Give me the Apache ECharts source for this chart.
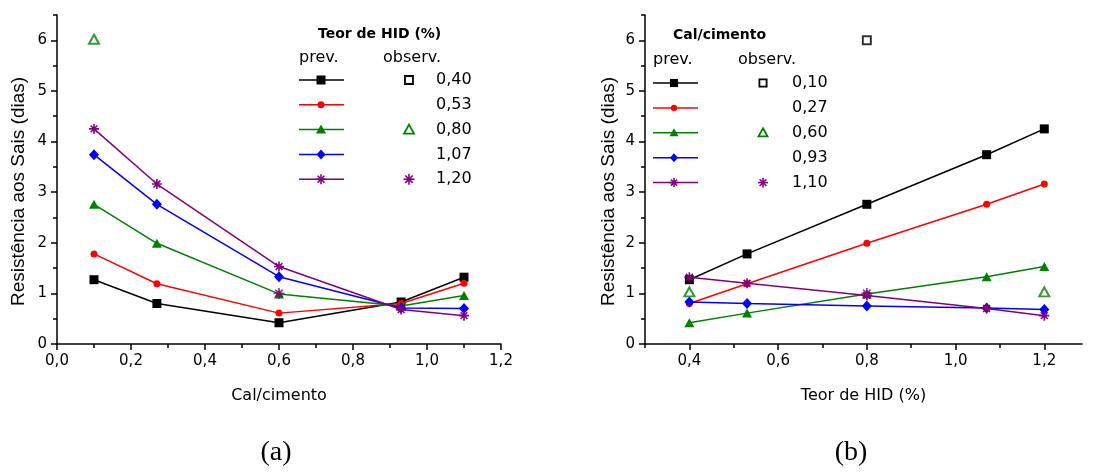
<!DOCTYPE html>
<html><head><meta charset="utf-8">
<script src="https://cdn.jsdelivr.net/npm/echarts@6/dist/echarts.min.js"></script>
<style>html,body{margin:0;padding:0;background:#fff}#c{width:1105px;height:472px}</style>
</head><body><div id="c"></div>
<script>
// ---------- data ----------
const hidLevels = [0.40, 0.53, 0.80, 1.07, 1.20];
const calLevels = [0.10, 0.27, 0.60, 0.93, 1.10];
const hidLabels = ['0,40', '0,53', '0,80', '1,07', '1,20'];
const calLabels = ['0,10', '0,27', '0,60', '0,93', '1,10'];
// predicted resistance (dias); one array per HID level, values follow calLevels
const prevHID040 = [1.27, 0.80, 0.42, 0.83, 1.32];
const prevHID053 = [1.78, 1.19, 0.61, 0.80, 1.20];
const prevHID080 = [2.76, 1.99, 0.99, 0.75, 0.96];
const prevHID107 = [3.74, 2.76, 1.33, 0.71, 0.70];
const prevHID120 = [4.25, 3.16, 1.53, 0.68, 0.56];
// observed points, chart (a): [cal/cimento, dias]
const obsA040 = [];
const obsA053 = [];
const obsA080 = [[0.10, 6.02]];
const obsA107 = [];
const obsA120 = [[0.60, 1.00]];
// observed points, chart (b): [teor de HID, dias]
const obsB010 = [[0.80, 6.00]];
const obsB027 = [];
const obsB060 = [[0.40, 1.03], [1.20, 1.03]];
const obsB093 = [];
const obsB110 = [[0.80, 1.00]];
// ticks
const yTicks = [0, 1, 2, 3, 4, 5, 6];
const yMinorTicks = [0.5, 1.5, 2.5, 3.5, 4.5, 5.5, 6.5];
const xTicksA = [0, 0.2, 0.4, 0.6, 0.8, 1.0, 1.2];
const xMinorTicksA = [0.1, 0.3, 0.5, 0.7, 0.9, 1.1];
const xTicksB = [0.4, 0.6, 0.8, 1.0, 1.2];
const xMinorTicksB = [0.3, 0.5, 0.7, 0.9, 1.1];

// ---------- styles ----------
const prevRows = [prevHID040, prevHID053, prevHID080, prevHID107, prevHID120];
const obsA = [obsA040, obsA053, obsA080, obsA107, obsA120];
const obsB = [obsB010, obsB027, obsB060, obsB093, obsB110];
const legendHasObs = [true, false, true, false, true];
const COLORS = ['#000000', '#ff0000', '#008000', '#0000ff', '#800080'];
const KINDS = ['rect', 'circle', 'triangle', 'diamond', 'star'];
const STAR = 'path://M5,0L5,10M0,5L10,5M1.6,1.6L8.4,8.4M1.6,8.4L8.4,1.6';
const SYM = {rect: 'rect', circle: 'circle', triangle: 'triangle', diamond: 'diamond', star: STAR};
const SIZE = {rect: 9, circle: 7, triangle: [10, 9], diamond: [10, 11], star: 10};
const EMPTY = {rect: 'emptyRect', circle: 'emptyCircle', triangle: 'emptyTriangle', diamond: 'emptyDiamond', star: STAR};
const OSIZE = {rect: 8, circle: 7, triangle: [10, 9], diamond: 10, star: 11};
const TICKFONT = 'DejaVu Sans';
const fmt1 = v => v.toFixed(1).replace('.', ',');
const fmt0 = v => String(Math.round(v));

function mainAxis(gridIndex, min, max, ticks, fmt, name, nameCfg) {
  return Object.assign({
    type: 'value', gridIndex, min, max, name,
    nameLocation: 'middle',
    axisLine: {show: true, onZero: false, lineStyle: {color: '#000', width: 1.5}},
    axisTick: {show: true, customValues: ticks, length: 6, lineStyle: {color: '#000', width: 1.5}},
    axisLabel: {show: true, customValues: ticks, formatter: fmt, color: '#000', fontFamily: TICKFONT, fontSize: 15, margin: 10},
    splitLine: {show: false}
  }, nameCfg);
}
function minorAxis(gridIndex, min, max, ticks, position) {
  return {
    type: 'value', gridIndex, min, max, position,
    axisLine: {show: false, onZero: false},
    axisTick: {show: true, customValues: ticks, length: 4, lineStyle: {color: '#000', width: 1.5}},
    axisLabel: {show: false}, splitLine: {show: false}
  };
}
const xNameStyle = {color: '#000', fontFamily: 'DejaVu Sans', fontSize: 16};
const yNameStyle = {color: '#000', fontFamily: 'Liberation Sans, Arial', fontSize: 19, padding: [0, 24, 0, 0]};

const series = [];
function addSeries(xi, yi, idx, lineData, obsData, tag) {
  const k = KINDS[idx], c = COLORS[idx];
  series.push({
    type: 'line', name: tag + '-prev-' + idx, xAxisIndex: xi, yAxisIndex: yi,
    data: lineData, symbol: SYM[k], symbolSize: SIZE[k], showSymbol: true,
    lineStyle: {color: c, width: 1.5},
    itemStyle: {color: c, borderColor: c, borderWidth: k === 'star' ? 1.6 : 0},
    z: 2 + idx
  });
  if (obsData.length) series.push({
    type: 'scatter', name: tag + '-obs-' + idx, xAxisIndex: xi, yAxisIndex: yi,
    data: obsData, symbol: EMPTY[k], symbolSize: OSIZE[k],
    itemStyle: {color: c, borderColor: c, borderWidth: k === 'star' ? 1.6 : 1.8},
    z: 10
  });
}
for (let i = 0; i < 5; i++) {
  addSeries(0, 0, i, calLevels.map((c, j) => [c, prevRows[i][j]]), obsA[i], 'a');
}
for (let j = 0; j < 5; j++) {
  addSeries(2, 2, j, hidLevels.map((h, i) => [h, prevRows[i][j]]), obsB[j], 'b');
}

// ---------- legend drawn as graphics ----------
function marker(kind, cx, cy, s, color, hollow) {
  const st = hollow ? {fill: '#fff', stroke: color, lineWidth: 1.8} : {fill: color};
  if (kind === 'rect') return [{type: 'rect', shape: {x: cx - s / 2, y: cy - s / 2, width: s, height: s}, style: st}];
  if (kind === 'circle') return [{type: 'circle', shape: {cx, cy, r: s / 2}, style: st}];
  if (kind === 'triangle') return [{type: 'polygon', shape: {points: [[cx, cy - s / 2], [cx + s / 2, cy + s / 2 - 1], [cx - s / 2, cy + s / 2 - 1]]}, style: st}];
  if (kind === 'diamond') return [{type: 'polygon', shape: {points: [[cx, cy - s / 2], [cx + s / 2 - 0.5, cy], [cx, cy + s / 2], [cx - s / 2 + 0.5, cy]]}, style: st}];
  const r = s / 2, d = r * 0.68, out = [];
  [[0, -r, 0, r], [-r, 0, r, 0], [-d, -d, d, d], [-d, d, d, -d]].forEach(a => out.push({
    type: 'line', shape: {x1: cx + a[0], y1: cy + a[1], x2: cx + a[2], y2: cy + a[3]}, style: {stroke: color, lineWidth: 1.6}
  }));
  return out;
}
function txt(text, x, y, size, weight, family) {
  return {type: 'text', style: {text, x, y, fontSize: size, fontWeight: weight || 'normal', fontFamily: family || 'DejaVu Sans', fill: '#000', align: 'left', verticalAlign: 'middle'}};
}
function legendBlock(L, title, labels) {
  const els = [];
  els.push(txt(title, L.titleX, L.titleY, 14, 'bold'));
  els.push(txt('prev.', L.lineX1, L.headY, 16));
  els.push(txt('observ.', L.obsTextX, L.headY, 16));
  for (let i = 0; i < 5; i++) {
    const y = L.rowY + i * L.dy, k = KINDS[i], c = COLORS[i];
    els.push({type: 'line', shape: {x1: L.lineX1, y1: y, x2: L.lineX2, y2: y}, style: {stroke: c, lineWidth: 1.5}});
    const s = Array.isArray(SIZE[k]) ? SIZE[k][0] : SIZE[k];
    marker(k, L.markX, y, s * L.scale, c, false).forEach(e => els.push(e));
    if (legendHasObs[i]) {
      const os = Array.isArray(OSIZE[k]) ? OSIZE[k][0] : OSIZE[k];
      marker(k, L.obsX, y, os * L.scale, c, true).forEach(e => els.push(e));
    }
    els.push(txt(labels[i], L.labelX, y, 16));
  }
  return els;
}
const legA = {titleX: 318, titleY: 34, headY: 58, obsTextX: 383, rowY: 80, dy: 24.8, lineX1: 299, lineX2: 344, markX: 321, obsX: 409, labelX: 436, scale: 1};
const legB = {titleX: 673, titleY: 35, headY: 60, obsTextX: 738, rowY: 83, dy: 24.9, lineX1: 653, lineX2: 698, markX: 674, obsX: 763, labelX: 792, scale: 0.9};
const graphics = [].concat(
  legendBlock(legA, 'Teor de HID (%)', hidLabels),
  legendBlock(legB, 'Cal/cimento', calLabels),
  [{type: 'text', style: {text: '(a)', x: 276, y: 453, fontSize: 28, fontFamily: 'Liberation Serif, Times New Roman, serif', fill: '#000', align: 'center', verticalAlign: 'middle'}},
   {type: 'text', style: {text: '(b)', x: 851, y: 453, fontSize: 28, fontFamily: 'Liberation Serif, Times New Roman, serif', fill: '#000', align: 'center', verticalAlign: 'middle'}}]
);

const option = {
  animation: false,
  backgroundColor: '#fff',
  grid: [
    {left: 57, top: 15, width: 444, height: 329, containLabel: false},
    {left: 645, top: 15, width: 437, height: 329, containLabel: false}
  ],
  xAxis: [
    mainAxis(0, 0, 1.2, xTicksA, fmt1, 'Cal/cimento', {position: 'bottom', nameGap: 44, nameTextStyle: xNameStyle}),
    minorAxis(0, 0, 1.2, xMinorTicksA, 'bottom'),
    mainAxis(1, 0.3, 1.285, xTicksB, fmt1, 'Teor de HID (%)', {position: 'bottom', nameGap: 44, nameTextStyle: xNameStyle}),
    minorAxis(1, 0.3, 1.285, xMinorTicksB, 'bottom')
  ],
  yAxis: [
    mainAxis(0, 0, 6.5, yTicks, fmt0, 'Resistência aos Sais (dias)', {position: 'left', nameGap: 29, nameTextStyle: yNameStyle}),
    minorAxis(0, 0, 6.5, yMinorTicks, 'left'),
    mainAxis(1, 0, 6.5, yTicks, fmt0, 'Resistência aos Sais (dias)', {position: 'left', nameGap: 27, nameTextStyle: yNameStyle}),
    minorAxis(1, 0, 6.5, yMinorTicks, 'left')
  ],
  series,
  graphic: graphics
};
const chart = echarts.init(document.getElementById('c'), null, {renderer: 'canvas'});
chart.setOption(option);
</script></body></html>
